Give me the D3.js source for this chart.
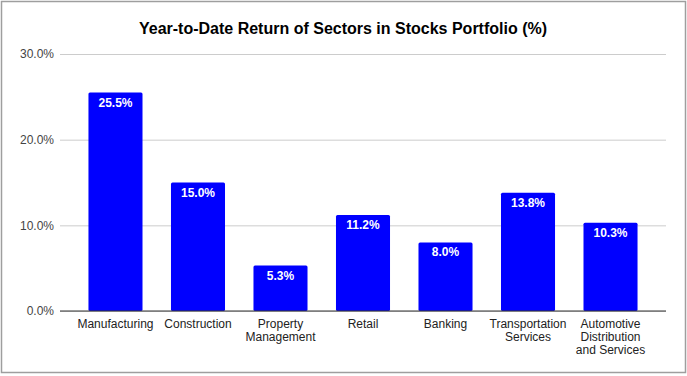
<!DOCTYPE html>
<html>
<head>
<meta charset="utf-8">
<script src="https://cdn.jsdelivr.net/npm/d3@7"></script>
<style>
  body { margin: 0; background: #fff; }
  svg { display: block; font-family: "Liberation Sans", Arial, sans-serif; }
</style>
</head>
<body>
<div id="chart"></div>
<script>
// chart data
const sectors = [
    ['Manufacturing'],
    ['Construction'],
    ['Property', 'Management'],
    ['Retail'],
    ['Banking'],
    ['Transportation', 'Services'],
    ['Automotive', 'Distribution', 'and Services']
];
const returns = [25.5, 15.0, 5.3, 11.2, 8.0, 13.8, 10.3];
const yTicks = [0, 10, 20, 30];
const title = 'Year-to-Date Return of Sectors in Stocks Portfolio (%)';

const width = 687, height = 376;
const margin = {top: 54, right: 21, bottom: 65, left: 60};

const svg = d3.select('#chart').append('svg')
    .attr('width', width)
    .attr('height', height);

// outer frame like the sheet embed
svg.append('rect')
    .attr('x', 1.5).attr('y', 1.5)
    .attr('width', 684).attr('height', 371)
    .attr('fill', '#fff')
    .attr('stroke', '#9e9e9e')
    .attr('stroke-width', 1.5);

const x = d3.scaleBand()
    .domain(d3.range(sectors.length))
    .range([margin.left, width - margin.right])
    .paddingInner(0.345)
    .paddingOuter(0.345);

const y = d3.scaleLinear()
    .domain([0, 30])
    .range([height - margin.bottom, margin.top]);

svg.append('text')
    .attr('x', 343)
    .attr('y', 34)
    .attr('text-anchor', 'middle')
    .attr('font-size', 16)
    .attr('font-weight', 'bold')
    .attr('fill', '#000')
    .text(title);

// gridlines + y labels
const yAxis = svg.append('g')
    .attr('transform', 'translate(' + margin.left + ',0)')
    .call(d3.axisLeft(y)
        .tickValues(yTicks)
        .tickSize(-(width - margin.left - margin.right))
        .tickPadding(6)
        .tickFormat(d => d.toFixed(1) + '%'));
yAxis.select('.domain').remove();
yAxis.selectAll('.tick line')
    .attr('stroke', '#cccccc');
yAxis.selectAll('.tick text')
    .attr('font-size', 12)
    .attr('fill', '#444')
    .attr('font-family', '"Liberation Sans", Arial, sans-serif');

// bars
svg.append('g').selectAll('rect')
    .data(returns)
    .join('rect')
        .attr('x', (d, i) => x(i))
        .attr('y', d => y(d))
        .attr('width', x.bandwidth())
        .attr('height', d => y(0) - y(d))
        .attr('rx', 1.5)
        .attr('fill', '#0000ff');

svg.append('g').selectAll('text')
    .data(returns)
    .join('text')
        .attr('x', (d, i) => x(i) + x.bandwidth() / 2)
        .attr('y', d => y(d) + 14)
        .attr('text-anchor', 'middle')
        .attr('font-size', 12)
        .attr('font-weight', 'bold')
        .attr('fill', '#fff')
        .text(d => d.toFixed(1) + '%');

// baseline
svg.append('line')
    .attr('x1', margin.left)
    .attr('x2', width - margin.right)
    .attr('y1', y(0))
    .attr('y2', y(0))
    .attr('stroke', '#333')
    .attr('stroke-width', 1);

// category labels, one text per wrapped line
const lineH = 13;
const labelRows = [];
sectors.forEach((lines, i) => {
    lines.forEach((t, j) => labelRows.push({i: i, j: j, t: t}));
});
svg.append('g').selectAll('text')
    .data(labelRows)
    .join('text')
        .attr('x', d => x(d.i) + x.bandwidth() / 2)
        .attr('y', d => y(0) + 17 + d.j * lineH)
        .attr('text-anchor', 'middle')
        .attr('font-size', 12)
        .attr('fill', '#222')
        .text(d => d.t);
</script>
</body>
</html>
